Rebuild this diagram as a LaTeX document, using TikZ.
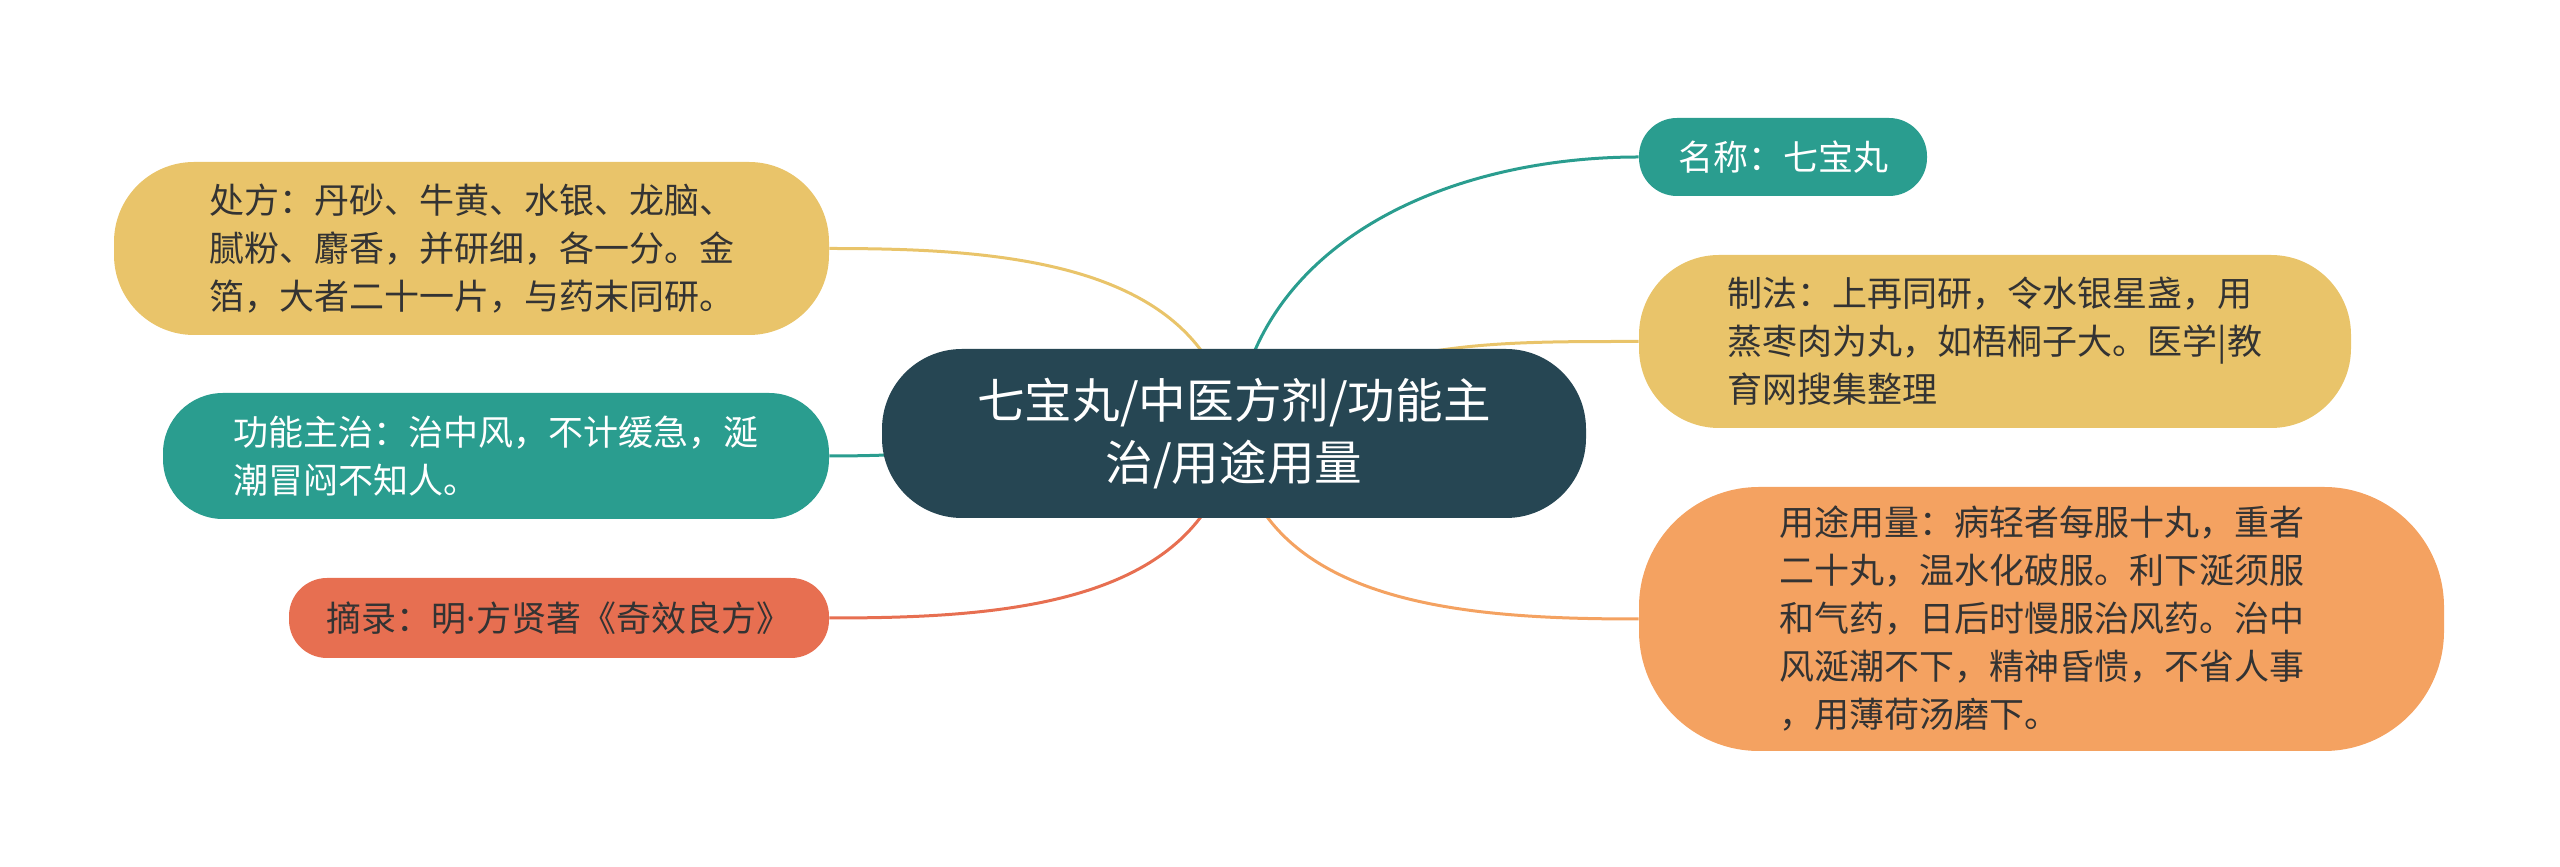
\documentclass[tikz,border=0pt]{standalone}
\usepackage{fontspec}
\setmainfont{Noto Sans CJK SC}
\newfontfamily\latinsans{Noto Sans}
\usetikzlibrary{backgrounds}
\definecolor{hub}{HTML}{264653}
\definecolor{sea}{HTML}{2A9D8F}
\definecolor{sand}{HTML}{E9C46A}
\definecolor{peach}{HTML}{F4A261}
\definecolor{brick}{HTML}{E76F51}
\definecolor{ink}{HTML}{333333}

\begin{document}
\begin{tikzpicture}[x=0.5pt, y=0.5pt,
	  pill/.style={rounded corners=#1, inner sep=0pt, align=left,
		font=\fontsize{17.5}{24}\selectfont},
	  link/.style={line width=1.5pt}]
	  \useasboundingbox (0, 0) rectangle (2560, 867);
	  % hub
	  \draw(1234, 433.5) node[pill=40pt, fill=hub, text=white, align=center,
		minimum width=352pt, minimum height=84.5pt,
		font=\fontsize{23.8}{31}\selectfont] (hub)
		{七宝丸/中医方剂/功能主\\治/用途用量};
	  % right side
	  \draw(1783, 710) node[pill=19pt, fill=sea, text=white,
		minimum width=144pt, minimum height=39pt] (name) {名称：七宝丸};
	  \draw(1995, 525.5) node[pill=40pt, fill=sand, text=ink,
		minimum width=356pt, minimum height=86.5pt] (make)
		{制法：上再同研，令水银星盏，用\\蒸枣肉为丸，如梧桐子大。医学|教\\育网搜集整理};
	  \draw(2041.5, 248) node[pill=60pt, fill=peach, text=ink,
		minimum width=402.5pt, minimum height=132pt] (dose)
		{用途用量：病轻者每服十丸，重者\\二十丸，温水化破服。利下涎须服\\和气药，日后时慢服治风药。治中\\风涎潮不下，精神昏愦，不省人事\\，用薄荷汤磨下。};
	  % left side
	  \draw(471.5, 618.5) node[pill=40pt, fill=sand, text=ink,
		minimum width=357.5pt, minimum height=86.5pt] (recipe)
		{处方：丹砂、牛黄、水银、龙脑、\\腻粉、麝香，并研细，各一分。金\\箔，大者二十一片，与药末同研。};
	  \draw(496, 411) node[pill=30pt, fill=sea, text=white,
		minimum width=333pt, minimum height=63pt] (use)
		{功能主治：治中风，不计缓急，涎\\潮冒闷不知人。};
	  \draw(559, 249) node[pill=19pt, fill=brick, text=ink,
		minimum width=270pt, minimum height=40pt] (src)
		{摘录：明{\latinsans ·}方贤著《奇效良方》};
	  \begin{scope}[on background layer]
		\draw[link, sea](hub.center) to[out=85, in=180] (name.west);
		\draw[link, sand](hub.center) to[out=35, in=180] (make.west);
		\draw[link, peach](hub.center) to[out=-82, in=180] (dose.west);
		\draw[link, sand](hub.center) to[out=98, in=0] (recipe.east);
		\draw[link, sea](hub.center) to[out=180, in=0] (use.east);
		\draw[link, brick](hub.center) to[out=-98, in=0] (src.east);
	  \end{scope}
	\end{tikzpicture}
\end{document}
